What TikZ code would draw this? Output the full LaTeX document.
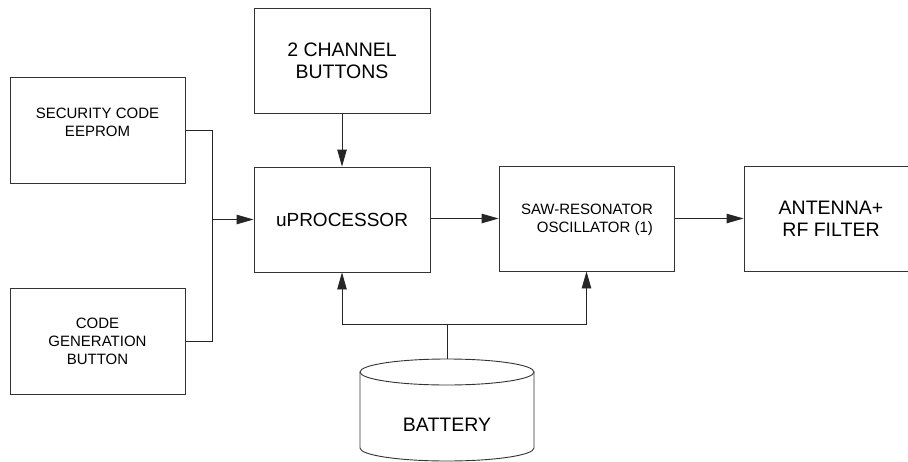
\documentclass[tikz,border=0pt]{standalone}
\usepackage{fontspec}
\setmainfont{Liberation Sans}
\usetikzlibrary{arrows.meta,calc}
\begin{document}
\begin{tikzpicture}[x=1pt,y=-1pt,
  line width=0.9pt,
  box/.style={draw=black!80, rectangle, inner sep=0pt, align=center},
  smalltxt/.style={font=\fontsize{15}{18}\selectfont},
  bigtxt/.style={font=\fontsize{19.5}{22}\selectfont},
  wire/.style={draw=black!85},
  arr/.style={draw=black!85, -{Triangle[length=17pt,width=9.5pt]}}]
\clip (0,0) rectangle (908,461);
\fill[white] (0,0) rectangle (908,461);
% boxes
\node[box, bigtxt, minimum width=176pt, minimum height=105pt] (chan) at (342,60.5) {2 CHANNEL\\BUTTONS};
\node[box, minimum width=175pt, minimum height=106pt] (sec) at (97.5,130) {};
\node[smalltxt, align=center, inner sep=0pt] (sectxt) at (97.5,122) {SECURITY CODE\\EEPROM};
\node[box, smalltxt, minimum width=175pt, minimum height=106pt] (code) at (97.5,341) {CODE\\GENERATION\\BUTTON};
\node[box, font=\fontsize{19}{22}\selectfont, minimum width=176pt, minimum height=105pt] (proc) at (342,219.5) {uPROCESSOR};
\node[box, minimum width=175pt, minimum height=105pt] (saw) at (586.5,218.5) {};
\node[smalltxt, align=right, inner sep=0pt] (sawtxt) at (587,220) {SAW-RESONATOR\\OSCILLATOR (1)};
\node[box, bigtxt, minimum width=174pt, minimum height=105pt] (ant) at (831,218.5) {ANTENNA+\\RF FILTER};
% battery
\draw[draw=black!80, fill=white] (360,372) -- (360,448) arc[start angle=180, end angle=360, x radius=87, y radius=-13] -- (534,372);
\draw[draw=black!80] (447,372) ellipse[x radius=87, y radius=13];
\node[bigtxt, inner sep=0pt] (bat) at (447,425) {BATTERY};
\coordinate (battop) at (447,359);
\coordinate (bus) at (447,324);
\coordinate (jn) at (212,219.5);
% connectors
\draw[arr] (chan.south) -- (proc.north);
\draw[wire] (sec.east) -| (jn);
\draw[wire] (code.east) -| (jn);
\draw[arr] (jn) -- (proc.west);
\draw[arr] (proc.east |- saw.west) -- (saw.west);
\draw[arr] (saw.east) -- (ant.west);
\draw[wire] (battop) -- (bus);
\draw[arr] (bus) -| (proc.south);
\draw[arr] (bus) -| (saw.south);
\end{tikzpicture}
\end{document}
